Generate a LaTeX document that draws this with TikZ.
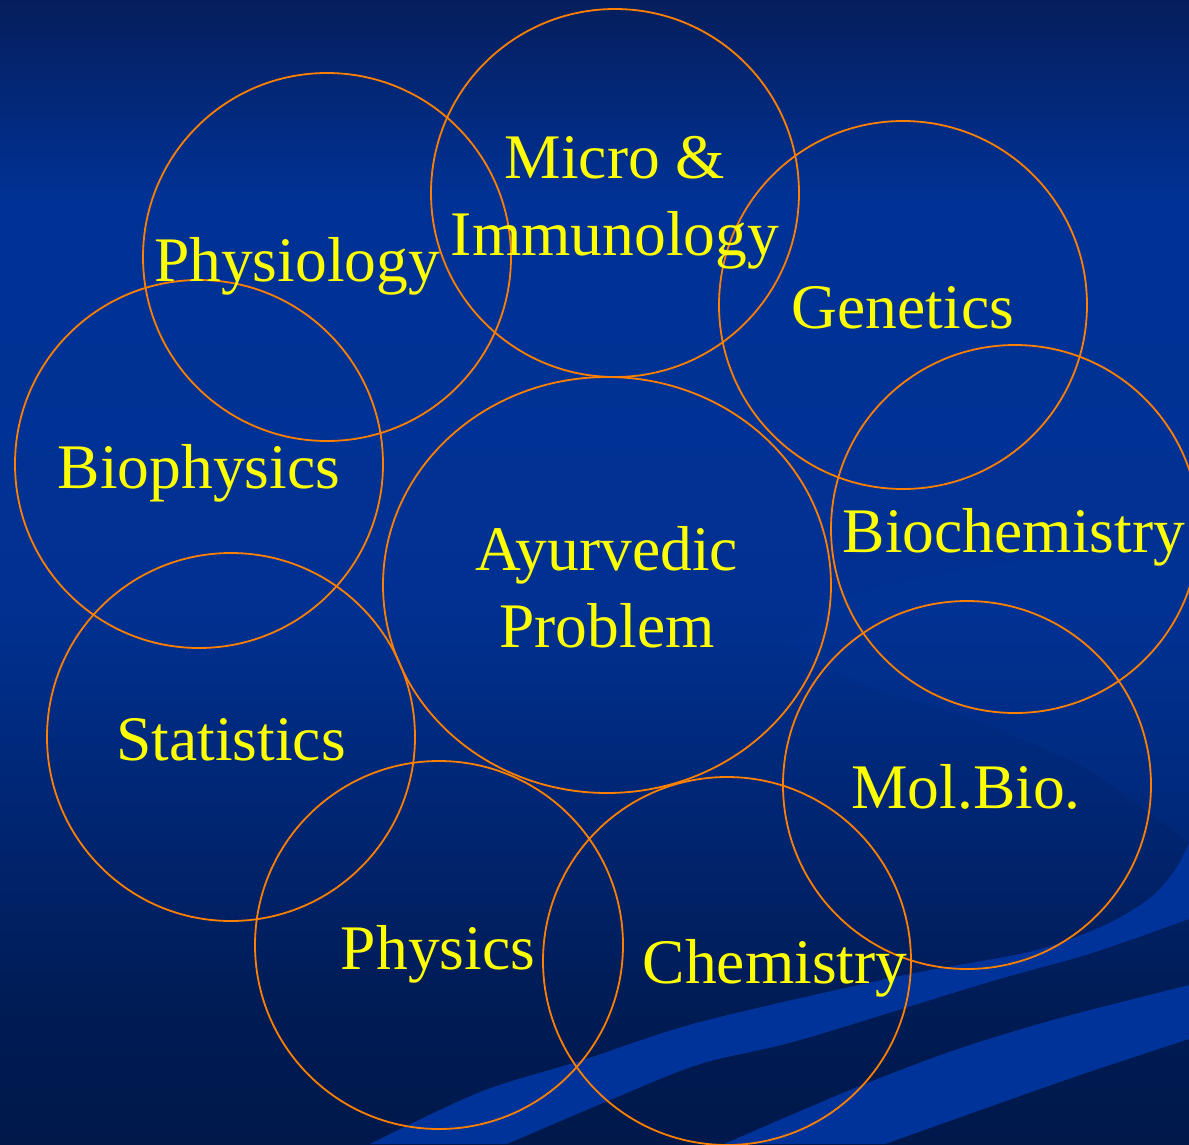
\documentclass[tikz,border=0pt]{standalone}
\usepackage{fontspec}
\setmainfont{Liberation Serif}
\usetikzlibrary{shapes.geometric}
\definecolor{bgA}{RGB}{6,30,92}
\definecolor{bgB}{RGB}{0,50,150}
\definecolor{bgC}{RGB}{0,49,146}
\definecolor{bgD}{RGB}{0,38,116}
\definecolor{bgE}{RGB}{0,28,86}
\definecolor{bgF}{RGB}{0,24,74}
\definecolor{bandblue}{RGB}{0,51,153}
\definecolor{swoosh}{RGB}{0,56,160}
\definecolor{ringorange}{RGB}{255,128,0}
\definecolor{lblyellow}{RGB}{255,255,0}
\newcommand\lblfont{\fontsize{63.5}{77}\selectfont}
\tikzset{
  ring/.style={draw=ringorange, line width=1.8pt, circle, minimum size=368pt, inner sep=0pt},
  bigring/.style={draw=ringorange, line width=1.8pt, ellipse, minimum width=448pt, minimum height=416pt, inner sep=0pt},
  lbl/.style={text=lblyellow, font=\lblfont, anchor=base, inner sep=0pt, align=center},
  band/.style={fill=bandblue},
}
\begin{document}
\begin{tikzpicture}[x=1pt,y=-1pt]
\useasboundingbox (0,0) rectangle (1189,1144);
% background gradient
\fill[top color=bgA, bottom color=bgB] (0,0) rectangle (1189,201);
\fill[top color=bgB, bottom color=bgC] (0,200) rectangle (1189,601);
\fill[top color=bgC, bottom color=bgD] (0,600) rectangle (1189,801);
\fill[top color=bgD, bottom color=bgE] (0,800) rectangle (1189,1001);
\fill[top color=bgE, bottom color=bgF] (0,1000) rectangle (1189,1144);
% faint swoosh
\fill[swoosh, opacity=0.2] plot[smooth] coordinates {(790,643) (850,596) (983,567) (1117,551) (1189,548)}
  -- (1189,843) -- plot[smooth] coordinates {(1189,843) (1083,767) (960,715) (883,692) (820,665) (790,643)} -- cycle;
% bands
\fill[band] plot[smooth] coordinates {(370,1144) (480,1092) (583,1060) (700,1022) (900,976) (1033,951) (1105,925) (1150,898) (1175,870) (1189,843)}
  -- (1189,919) -- plot[smooth] coordinates {(1189,919) (1089,954) (989,982) (800,1040) (700,1064) (610,1100) (507,1144)} -- cycle;
\fill[band] plot[smooth] coordinates {(724,1144) (850,1090) (955,1050) (1060,1018) (1189,985)}
  -- (1189,1039) -- plot[smooth] coordinates {(1189,1039) (1080,1075) (989,1107) (885,1144)} -- cycle;
% circles
\node[ring] (cphys) at (327,257) {};
\node[ring] (cmicro) at (615,193) {};
\node[ring] (cgen) at (903,305) {};
\node[ring] (cbioph) at (199,464) {};
\node[bigring] (cayur) at (607,585) {};
\node[ring] (cbioch) at (1015,529) {};
\node[ring] (cstat) at (231,737) {};
\node[ring] (cmol) at (967,785) {};
\node[ring] (cphysics) at (439,945) {};
\node[ring] (cchem) at (727,961) {};
% labels
\node[lbl] (tphys) at (297,281) {Physiology};
\node[lbl] (tmicro) at (615,255) {Micro \&\\Immunology};
\node[lbl] (tgen) at (903,328) {Genetics};
\node[lbl] (tbioph) at (199,488) {Biophysics};
\node[lbl] (tayur) at (607,647) {Ayurvedic\\Problem};
\node[lbl] (tbioch) at (1014,552) {Biochemistry};
\node[lbl] (tstat) at (231,760) {Statistics};
\node[lbl] (tmol) at (966,808) {Mol.Bio.};
\node[lbl] (tphysics) at (438,969) {Physics};
\node[lbl] (tchem) at (775,983) {Chemistry};
\end{tikzpicture}
\end{document}
